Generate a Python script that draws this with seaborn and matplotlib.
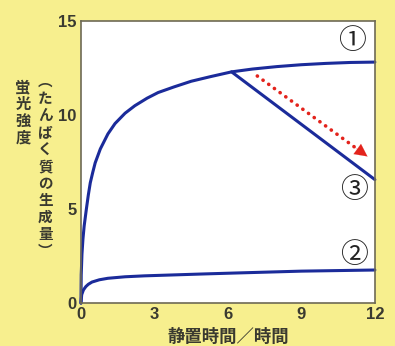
import matplotlib
matplotlib.use("Agg")
import matplotlib.pyplot as plt
import seaborn as sns
import pandas as pd

# curve 1 (continuous growth)
x1 = [0, 0.01, 0.04, 0.08, 0.13, 0.22, 0.3, 0.38, 0.48, 0.58, 0.79, 1.1, 1.39, 1.8, 2.2, 2.7, 3.15, 3.8, 4.5, 5.3, 6.15, 7.0, 8.0, 9.0, 10.0, 11.0, 12.0]
y1 = [0, 1.5, 2.6, 3.4, 4.1, 5.0, 5.75, 6.4, 6.95, 7.46, 8.2, 9.0, 9.55, 10.1, 10.5, 10.9, 11.2, 11.5, 11.8, 12.05, 12.3, 12.45, 12.58, 12.68, 12.75, 12.8, 12.82]
# curve 2 (low level)
x2 = [0, 0.03, 0.1, 0.2, 0.3, 0.45, 0.75, 1.1, 1.8, 2.6, 3.8, 5.0, 6.3, 9.0, 12.0]
y2 = [0, 0.45, 0.7, 0.88, 1.0, 1.12, 1.24, 1.32, 1.4, 1.45, 1.5, 1.55, 1.6, 1.7, 1.76]
# curve 3 (decline after 6 h)
x3 = [6.15, 12.0]
y3 = [12.3, 6.57]

arrow_start = (7.2, 12.08)
arrow_end = (11.7, 7.8)

labels = ["①", "②", "③"]
label_x = [11.08, 11.15, 11.15]
label_y = [13.95, 2.55, 6.0]

xticks = [0, 3, 6, 9, 12]
yticks = [0, 5, 10, 15]

yellow = "#f7ef8e"
blue = "#1b2b9a"
red = "#e3231c"
dark = "#3a3a30"
spine_c = "#6e6a55"

sns.set_style("white")
plt.rcParams["font.family"] = ["Noto Sans CJK JP", "DejaVu Sans"]

fig = plt.figure(figsize=(3.95, 3.46), dpi=100, facecolor=yellow)
ax = fig.add_axes([0.205, 0.124, 0.744, 0.815])
ax.set_facecolor("white")

df = pd.concat([
    pd.DataFrame({"t": x1, "v": y1, "c": "1"}),
    pd.DataFrame({"t": x2, "v": y2, "c": "2"}),
    pd.DataFrame({"t": x3, "v": y3, "c": "3"}),
])
sns.lineplot(data=df, x="t", y="v", units="c", estimator=None, sort=False,
             color=blue, lw=2.2, ax=ax, legend=False)
for ln in ax.lines:
    ln.set_solid_joinstyle("round")
    ln.set_clip_on(False)

# red dotted arrow
ax.plot([arrow_start[0], arrow_end[0] - 0.35], [arrow_start[1], arrow_end[1] + 0.33],
        color=red, lw=2.6, linestyle=(0, (0.05, 1.9)), dash_capstyle="round")
ax.annotate("", xy=arrow_end, xytext=(arrow_end[0] - 0.6, arrow_end[1] + 0.57),
            arrowprops=dict(arrowstyle="-|>,head_length=0.9,head_width=0.45",
                            color=red, lw=0.1, shrinkA=0, shrinkB=0))

for s, lx, ly in zip(labels, label_x, label_y):
    ax.text(lx, ly, s, fontsize=20, color="#222222", ha="center", va="center")

ax.set_xlim(0, 12)
ax.set_ylim(0, 15)
ax.set_xticks(xticks)
ax.set_yticks(yticks)
ax.set_xticklabels([str(v) for v in xticks], fontsize=12, fontweight="bold",
                   color=dark, family="Liberation Sans")
ax.set_yticklabels([str(v) for v in yticks], fontsize=12, fontweight="bold",
                   color=dark, family="Liberation Sans")
ax.tick_params(axis="both", direction="in", length=7, width=1, color=spine_c, pad=3)
ax.set_xlabel("")
ax.set_ylabel("")
for sp in ax.spines.values():
    sp.set_color(spine_c)
    sp.set_linewidth(1.2)

# x label
fig.text(0.578, 0.026, "静置時間／時間", fontsize=12.5, fontweight="bold",
         color=dark, ha="center", va="center")
# vertical y labels
fig.text(0.058, 0.675, "\n".join("蛍光強度"), fontsize=11, fontweight="bold",
         color=dark, ha="center", va="center", linespacing=1.08)
fig.text(0.115, 0.52, "\n".join("︵たんぱく質の生成量︶"), fontsize=10.5, fontweight="bold",
         color=dark, ha="center", va="center", linespacing=1.08)

fig.savefig("out.png", dpi=100, facecolor=yellow)
